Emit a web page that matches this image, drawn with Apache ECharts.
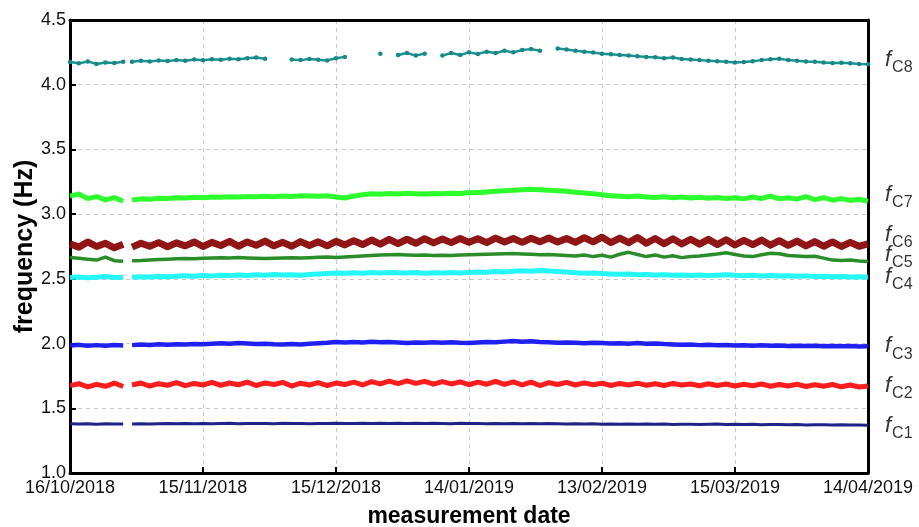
<!DOCTYPE html>
<html>
<head>
<meta charset="utf-8">
<script src="https://cdn.jsdelivr.net/npm/echarts@6/dist/echarts.min.js"></script>
<style>
html,body{margin:0;padding:0;background:#fff;}
#chart{width:919px;height:527px;}
</style>
</head>
<body>
<div id="chart"></div>
<script>
// day offsets from 16/10/2018 (13 marks the data gap)
var days = [0,2,4,6,8,10,12,13,
14,16,18,20,22,24,26,28,30,32,
34,36,38,40,42,44,46,48,50,52,
54,56,58,60,62,64,66,68,70,72,
74,76,78,80,82,84,86,88,90,92,
94,96,98,100,102,104,106,108,110,112,
114,116,118,120,122,124,126,128,130,132,
134,136,138,140,142,144,146,148,150,152,
154,156,158,160,162,164,166,168,170,172,
174,176,178,180];

var tickLabels = ['16/10/2018','15/11/2018','15/12/2018','14/01/2019','13/02/2019','15/03/2019','14/04/2019'];
var yTicks = [1.0,1.5,2.0,2.5,3.0,3.5,4.0,4.5];

var seriesNames = ['C1','C2','C3','C4','C5','C6','C7','C8'];
var labelY = [1.345,1.655,1.96,2.495,2.665,2.82,3.13,4.175];

var fC1 = [1.380,1.378,1.381,1.377,1.380,1.378,1.379,null,
1.379,1.381,1.378,1.380,1.382, 1.380,1.383,1.381,1.382,1.380,
1.382,1.384,1.381,1.383,1.382, 1.383,1.381,1.384,1.382,1.383,
1.381,1.383,1.382,1.384,1.383, 1.382,1.384,1.383,1.385,1.382,
1.384,1.383,1.385,1.382,1.384, 1.383,1.381,1.384,1.382,1.383,
1.381,1.383,1.380,1.382,1.381, 1.382,1.380,1.383,1.381,1.379,
1.381,1.378,1.380,1.377,1.379, 1.377,1.379,1.376,1.378,1.376,
1.378,1.375,1.377,1.376,1.374, 1.376,1.378,1.375,1.377,1.374,
1.376,1.373,1.375,1.374,1.372, 1.374,1.371,1.373,1.372,1.370,
1.372,1.370,1.371,1.369];

var fC2 = [1.675,1.690,1.665,1.685,1.670,1.695,1.668,null,
1.680,1.695,1.672,1.690,1.678, 1.698,1.675,1.692,1.680,1.700,
1.678,1.695,1.682,1.702,1.676, 1.696,1.684,1.700,1.672,1.694,
1.680,1.698,1.676,1.695,1.684, 1.702,1.680,1.706,1.688,1.710,
1.690,1.712,1.692,1.708,1.686, 1.706,1.688,1.704,1.682,1.702,
1.686,1.708,1.684,1.704,1.680, 1.702,1.676,1.698,1.684,1.700,
1.680,1.696,1.682,1.694,1.676, 1.692,1.680,1.694,1.678,1.690,
1.676,1.692,1.680,1.688,1.674, 1.690,1.676,1.688,1.672,1.686,
1.674,1.688,1.670,1.684,1.672, 1.686,1.668,1.682,1.670,1.684,
1.666,1.680,1.664,1.672];

var fC3 = [1.985,1.990,1.983,1.988,1.984,1.989,1.985,null,
1.988,1.992,1.989,1.994,1.991, 1.995,1.992,1.997,1.994,1.998,
2.002,1.998,2.004,2.000,1.997, 1.999,1.994,1.992,1.996,1.993,
1.998,2.002,2.006,2.012,2.008, 2.013,2.009,2.014,2.010,2.012,
2.008,2.004,2.008,2.006,2.010, 2.007,2.011,2.006,2.004,2.008,
2.012,2.010,2.015,2.019,2.014, 2.018,2.013,2.011,2.007,2.009,
2.006,2.003,2.007,2.004,2.001, 2.003,1.999,2.004,1.998,2.001,
1.996,1.993,1.990,1.992,1.988, 1.991,1.987,1.989,1.985,1.987,
1.984,1.987,1.983,1.986,1.982, 1.984,1.981,1.983,1.980,1.982,
1.979,1.981,1.978,1.980];

var fC4 = [2.510,2.515,2.508,2.513,2.518,2.510,2.512,null,
2.512,2.516,2.514,2.519,2.516, 2.520,2.524,2.521,2.526,2.523,
2.528,2.525,2.530,2.526,2.531, 2.528,2.533,2.529,2.532,2.528,
2.534,2.538,2.542,2.546,2.543, 2.547,2.544,2.549,2.546,2.550,
2.547,2.545,2.549,2.544,2.548, 2.545,2.549,2.546,2.550,2.553,
2.551,2.556,2.553,2.558,2.562, 2.559,2.564,2.560,2.556,2.552,
2.548,2.544,2.546,2.541,2.538, 2.535,2.538,2.532,2.534,2.529,
2.531,2.527,2.530,2.526,2.529, 2.525,2.528,2.532,2.527,2.524,
2.527,2.523,2.526,2.522,2.524, 2.520,2.523,2.518,2.521,2.516,
2.518,2.514,2.516,2.512];

var fC5 = [2.665,2.660,2.652,2.645,2.668,2.640,2.636,null,
2.640,2.642,2.646,2.650,2.652, 2.655,2.658,2.656,2.660,2.662,
2.664,2.661,2.665,2.662,2.660, 2.658,2.660,2.662,2.664,2.661,
2.664,2.666,2.668,2.665,2.668, 2.672,2.676,2.680,2.684,2.686,
2.688,2.685,2.682,2.684,2.680, 2.682,2.680,2.684,2.686,2.688,
2.690,2.692,2.694,2.696,2.693, 2.690,2.686,2.688,2.684,2.680,
2.676,2.685,2.672,2.682,2.668, 2.690,2.705,2.688,2.672,2.684,
2.668,2.678,2.664,2.672,2.676, 2.684,2.692,2.702,2.688,2.676,
2.672,2.686,2.698,2.694,2.680, 2.676,2.672,2.674,2.660,2.645,
2.642,2.645,2.638,2.634];

var fC6 = [2.770,2.745,2.785,2.750,2.775,2.740,2.768,null,
2.745,2.775,2.752,2.780,2.748, 2.778,2.755,2.785,2.750,2.782,
2.758,2.790,2.752,2.785,2.760, 2.792,2.755,2.782,2.752,2.788,
2.758,2.786,2.755,2.790,2.762, 2.795,2.765,2.800,2.768,2.805,
2.772,2.806,2.775,2.810,2.778, 2.808,2.780,2.812,2.782,2.810,
2.780,2.815,2.785,2.812,2.782, 2.814,2.786,2.816,2.784,2.812,
2.782,2.818,2.786,2.822,2.780, 2.815,2.780,2.820,2.775,2.812,
2.772,2.810,2.770,2.806,2.768, 2.805,2.765,2.802,2.762,2.798,
2.765,2.800,2.760,2.795,2.758, 2.792,2.755,2.788,2.752,2.785,
2.750,2.782,2.752,2.770];

var fC7 = [3.140,3.155,3.120,3.135,3.110,3.128,3.100,null,
3.110,3.118,3.115,3.122,3.120, 3.126,3.124,3.130,3.127,3.133,
3.130,3.135,3.132,3.137,3.134, 3.138,3.135,3.140,3.137,3.142,
3.140,3.138,3.142,3.132,3.125, 3.140,3.150,3.158,3.154,3.160,
3.156,3.162,3.158,3.155,3.160, 3.157,3.162,3.160,3.165,3.168,
3.172,3.176,3.180,3.184,3.188, 3.192,3.188,3.184,3.180,3.176,
3.170,3.164,3.158,3.150,3.142, 3.138,3.135,3.140,3.132,3.128,
3.135,3.126,3.132,3.124,3.130, 3.122,3.128,3.120,3.126,3.118,
3.132,3.120,3.140,3.118,3.126, 3.116,3.135,3.112,3.128,3.108,
3.120,3.106,3.115,3.100];

var fC8 = [4.175,4.165,4.180,4.160,4.172,4.168,4.178,null,
4.178,4.185,4.180,4.188,4.183, 4.190,4.186,4.194,4.189,4.196,
4.192,4.200,4.196,4.205,4.210, 4.200,null,null,4.195,4.190,
4.198,4.192,4.188,4.205,4.215, null,null,null,4.240,null,
4.230,4.245,4.225,4.240,null, 4.225,4.245,4.230,4.250,4.238,
4.255,4.245,4.262,4.250,4.268, 4.275,4.262,null,4.280,4.272,
4.262,4.255,4.248,4.240,4.236, 4.230,4.226,4.220,4.215,4.212,
4.205,4.210,4.198,4.195,4.190, 4.186,4.182,4.178,4.172,4.176,
4.182,4.190,4.196,4.200,4.190, 4.186,4.180,4.178,4.172,4.168,
4.170,4.165,4.160,4.158];

var values = [fC1,fC2,fC3,fC4,fC5,fC6,fC7,fC8];
var colors = ['#141680','#ff1010','#1414f0','#19f5f5','#1f871f','#8a0a0a','#22ff22','#138a88'];
var widths = [3,5,4.5,5,3.5,7,5,2.5];

function pairs(arr){
  return days.map(function(d,i){ return [d, arr[i] == null ? '-' : arr[i]]; });
}

var series = values.map(function(arr,k){
  var s = {
    name: 'f' + seriesNames[k],
    type: 'line',
    xAxisIndex: 0, yAxisIndex: 0,
    data: pairs(arr),
    showSymbol: false,
    connectNulls: false,
    lineStyle: {color: colors[k], width: widths[k], join: 'round', opacity: 0.95},
    itemStyle: {color: colors[k]},
    z: 2 + k
  };
  if (k === 7) {
    s.showSymbol = true;
    s.symbol = 'circle';
    s.symbolSize = 4.5;
  }
  return s;
});

series.push({
  type: 'scatter',
  xAxisIndex: 0, yAxisIndex: 0,
  symbolSize: 0,
  silent: true,
  clip: false,
  data: labelY.map(function(v,k){ return {value:[180, v], name: seriesNames[k]}; }),
  label: {
    show: true,
    position: 'right',
    distance: 17,
    formatter: function(p){ return '{f|f}{s|' + p.name + '}'; },
    rich: {
      f: {fontFamily: 'Liberation Sans, Arial, sans-serif', fontSize: 22, fontStyle: 'italic', color: '#000', verticalAlign: 'bottom', padding: [0,1,5,0]},
      s: {fontFamily: 'Liberation Sans, Arial, sans-serif', fontSize: 16, color: '#000', verticalAlign: 'bottom'}
    }
  },
  z: 20
});

var font = 'Liberation Sans, Arial, sans-serif';
var frameLine = {show: true, onZero: false, lineStyle: {color: '#000', width: 3}};
var chart = echarts.init(document.getElementById('chart'), null, {renderer: 'canvas'});
chart.setOption({
  animation: false,
  backgroundColor: '#fff',
  grid: {left: 70, right: 51, top: 20, bottom: 54, containLabel: false, outerBoundsMode: 'none'},
  xAxis: [{
    type: 'value', min: 0, max: 180, interval: 30,
    name: 'measurement date', nameLocation: 'middle', nameGap: 32, nameMoveOverlap: false,
    nameTextStyle: {fontFamily: font, fontSize: 23, fontWeight: 'bold', color: '#000'},
    axisLine: frameLine,
    axisTick: {show: true, inside: true, length: 6, lineStyle: {color: '#000', width: 2}},
    axisLabel: {fontFamily: font, fontSize: 18, color: '#111', margin: 6,
      showMinLabel: true, showMaxLabel: true,
      formatter: function(v){ return tickLabels[Math.round(v/30)] || ''; }},
    splitLine: {show: true, lineStyle: {color: '#c8c8c8', type: [4,4], width: 1}}
  }, {
    type: 'value', min: 0, max: 180, position: 'top',
    axisLine: frameLine, axisTick: {show: false}, axisLabel: {show: false}, splitLine: {show: false}
  }],
  yAxis: [{
    type: 'value', min: 1.0, max: 4.5, interval: 0.5,
    name: 'frequency (Hz)', nameLocation: 'middle', nameGap: 32, nameMoveOverlap: false,
    nameTextStyle: {fontFamily: font, fontSize: 25, fontWeight: 'bold', color: '#000'},
    axisLine: frameLine,
    axisTick: {show: true, inside: true, length: 6, lineStyle: {color: '#000', width: 2}},
    axisLabel: {fontFamily: font, fontSize: 18, color: '#111', margin: 4,
      formatter: function(v){ var i = yTicks.indexOf(v); return i >= 0 ? yTicks[i].toFixed(1) : v.toFixed(1); }},
    splitLine: {show: true, lineStyle: {color: '#c8c8c8', type: [4,4], width: 1}}
  }, {
    type: 'value', min: 1.0, max: 4.5, position: 'right',
    axisLine: frameLine, axisTick: {show: false}, axisLabel: {show: false}, splitLine: {show: false}
  }],
  series: series
});
</script>
</body>
</html>
